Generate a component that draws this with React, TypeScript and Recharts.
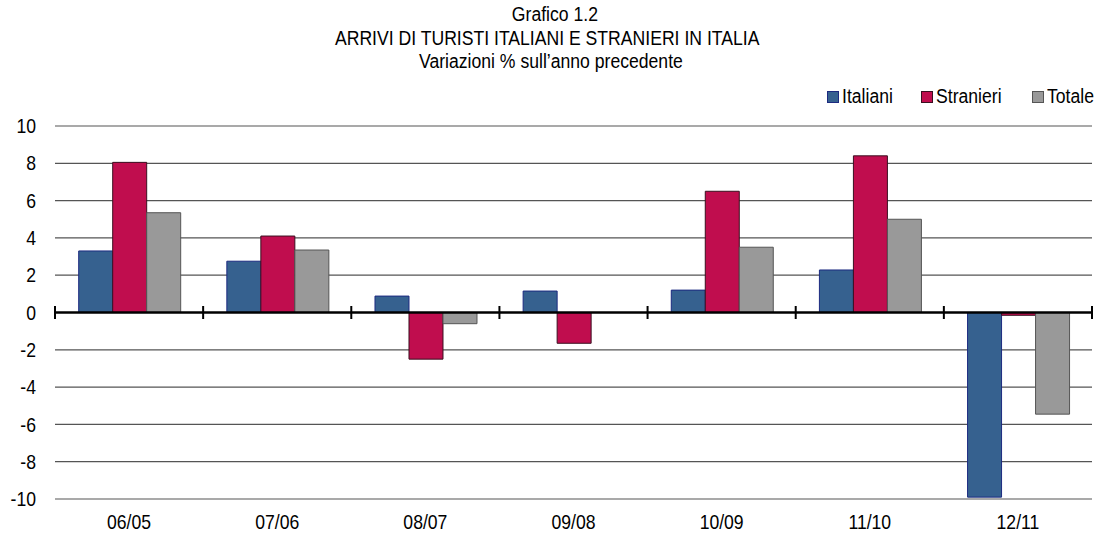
import { BarChart, Bar, XAxis, YAxis, CartesianGrid, ReferenceLine } from 'recharts'

const categories = ['06/05', '07/06', '08/07', '09/08', '10/09', '11/10', '12/11']
const italiani = [3.3, 2.75, 0.88, 1.15, 1.2, 2.28, -9.9]
const stranieri = [8.05, 4.1, -2.5, -1.65, 6.5, 8.4, -0.15]
const totale = [5.35, 3.35, -0.6, 0.0, 3.5, 5.0, -5.45]
const yTicks = [-10, -8, -6, -4, -2, 0, 2, 4, 6, 8, 10]

const series = [
   { key: 'italiani', name: 'Italiani', fill: '#36618f', stroke: '#1c2a80' },
   { key: 'stranieri', name: 'Stranieri', fill: '#c00d4e', stroke: '#3a1020' },
   { key: 'totale', name: 'Totale', fill: '#999999', stroke: '#555555' },
]

const data = categories.map((cat, i) => ({
   cat,
   italiani: italiani[i],
   stranieri: stranieri[i],
   totale: totale[i],
}))

const FONT = '"Liberation Sans", Arial, sans-serif'
const NARROW = 0.88

const ZeroLine = (props: any) => {
   const { x1, x2, y1 } = props
   const n = categories.length
   const step = (x2 - x1) / n
   const ticks = Array.from({ length: n + 1 }, (_, i) => x1 + i * step)
   return (
      <g>
         <line x1={ x1 } x2={ x2 } y1={ y1 } y2={ y1 } stroke="#000" strokeWidth={ 2.5 } />
         {
            ticks.map(x => (
               <line key={ x } x1={ x } x2={ x } y1={ y1 - 6.5 } y2={ y1 + 6.5 } stroke="#000" strokeWidth={ 2 } />
            ))
         }
      </g>
   )
}

const XTick = ({ x, y, payload }: any) => (
   <text transform={ `translate(${ x },${ y }) scale(${ NARROW },1)` } textAnchor="middle" dy="0.71em" fill="#000" fontSize={ 20 } fontFamily={ FONT }>
      { payload.value }
   </text>
)

const YTick = ({ x, y, payload }: any) => (
   <text transform={ `translate(${ x },${ y }) scale(${ NARROW },1)` } textAnchor="end" dy="0.355em" fill="#000" fontSize={ 20 } fontFamily={ FONT }>
      { payload.value }
   </text>
)

const narrowText = { display: 'inline-block', transform: `scaleX(${ NARROW })`, transformOrigin: 'center' }

export default function App() {
   return (
      <div style={ { position: 'absolute', left: 0, top: 0, width: 1094, height: 536, background: '#fff', fontFamily: FONT, color: '#000' } }>
         <div style={ { position: 'absolute', left: 0, top: 3, width: 1094, textAlign: 'center', fontSize: 20, lineHeight: '23.5px' } }>
            <div style={ { paddingLeft: 16 } }><span style={ narrowText }>Grafico 1.2</span></div>
            <div><span style={ narrowText }>ARRIVI DI TURISTI ITALIANI E STRANIERI IN ITALIA</span></div>
            <div style={ { paddingLeft: 8 } }><span style={ narrowText }>Variazioni % sull’anno precedente</span></div>
         </div>
         <div style={ { position: 'absolute', top: 85, right: 0, display: 'flex', alignItems: 'center', fontSize: 20, lineHeight: '23px' } }>
            {
               series.map(s => (
                  <div key={ s.key } style={ { display: 'flex', alignItems: 'center', marginLeft: 27 } }>
                     <span style={ { width: 12, height: 12, background: s.fill, border: `1px solid ${ s.stroke }`, marginRight: 3, boxSizing: 'border-box' } } />
                     <span style={ { ...narrowText, transformOrigin: 'left', marginRight: -6 } }>{ s.name }</span>
                  </div>
               ))
            }
         </div>
         <BarChart
            width={ 1094 }
            height={ 536 }
            data={ data }
            margin={ { top: 126, right: 2, bottom: 0, left: 0 } }
            barCategoryGap="16%"
            barGap={ 0 }
         >
            <CartesianGrid vertical={ false } stroke="#555" strokeWidth={ 1.2 } />
            <XAxis
               dataKey="cat"
               height={ 37 }
               axisLine={ false }
               tickLine={ false }
               tickSize={ 0 }
               tickMargin={ 16 }
               tick={ <XTick /> }
            />
            <YAxis
               width={ 55 }
               domain={ [-10, 10] }
               ticks={ yTicks }
               interval={ 0 }
               axisLine={ false }
               tickLine={ false }
               tickSize={ 0 }
               tickMargin={ 19 }
               tick={ <YTick /> }
            />
            {
               series.map(s => (
                  <Bar
                     key={ s.key }
                     dataKey={ s.key }
                     name={ s.name }
                     fill={ s.fill }
                     stroke={ s.stroke }
                     strokeWidth={ 1 }
                     isAnimationActive={ false }
                  />
               ))
            }
            <ReferenceLine y={ 0 } shape={ ZeroLine } />
         </BarChart>
      </div>
   )
}
